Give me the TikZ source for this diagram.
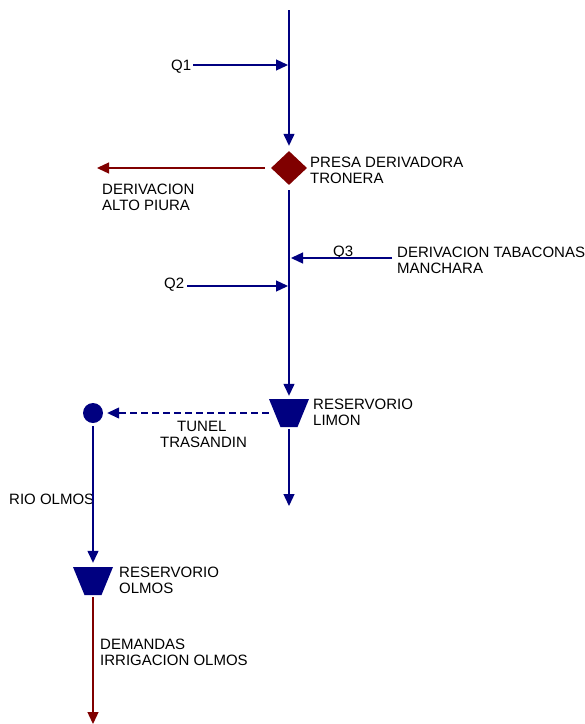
\documentclass[tikz,border=0pt]{standalone}
\usepackage{fontspec}
\setmainfont{Liberation Sans}
\usetikzlibrary{arrows.meta,shapes.geometric}
\definecolor{flow}{RGB}{0,0,128}
\definecolor{dem}{RGB}{128,0,0}
\tikzset{
  tip/.style={-{Triangle[length=12pt,width=11pt]}},
  flowline/.style={draw=flow, line width=1.3pt, tip},
  demline/.style={draw=dem, line width=1.3pt, tip},
  lbl/.style={font=\fontsize{15}{15.5}\selectfont, inner sep=0pt, align=left, text=black},
  dam/.style={diamond, fill=dem, minimum width=36pt, minimum height=34pt, inner sep=0pt},
  res/.style={rectangle, minimum height=28pt, minimum width=40pt, inner sep=0pt,
    path picture={\fill[flow] (path picture bounding box.north west) -- (path picture bounding box.north east)
      -- ([xshift=-11.5pt]path picture bounding box.south east) -- ([xshift=11.5pt]path picture bounding box.south west) -- cycle;}},
  junction/.style={circle, fill=flow, minimum size=20pt, inner sep=0pt}
}
\begin{document}
\begin{tikzpicture}[x=1pt,y=-1pt]
\useasboundingbox (0,0) rectangle (585,724);
% nodes
\coordinate (top) at (289,10);
\node[dam] (dia) at (289,168) {};
\node[res] (rl) at (289,413) {};
\node[junction] (dot) at (93,413) {};
\node[res] (ro) at (93,581) {};
\coordinate (altopiura) at (97,168);
\coordinate (q1start) at (193,65);
\coordinate (q1end) at (288,65);
\coordinate (q2start) at (187,286);
\coordinate (q2end) at (288,286);
\coordinate (q3start) at (392,258);
\coordinate (q3end) at (291,258);
\coordinate (limonout) at (289,506);
\coordinate (olmosout) at (93,724);
% labels
\node[lbl, anchor=base west] (q1) at (171,70) {Q1};
\node[lbl, anchor=base west] (q2) at (164,288) {Q2};
\node[lbl, anchor=base west] (q3) at (333,256) {Q3};
\node[lbl, anchor=base west] (presa) at (310,183) {PRESA DERIVADORA\\TRONERA};
\node[lbl, anchor=base west] (dap) at (102,210) {DERIVACION\\ALTO PIURA};
\node[lbl, anchor=base west] (tab) at (397,273) {DERIVACION TABACONAS\\MANCHARA};
\node[lbl, anchor=base west] (rll) at (313,425) {RESERVORIO\\LIMON};
\node[lbl, anchor=base west] (tun) at (160,447) {\hspace*{17pt}TUNEL\\TRASANDIN};
\node[lbl, anchor=base west] (rio) at (9,504) {RIO OLMOS};
\node[lbl, anchor=base west] (rol) at (119,593) {RESERVORIO\\OLMOS};
\node[lbl, anchor=base west] (demo) at (100,665) {DEMANDAS\\IRRIGACION OLMOS};
% connectors
\draw[flowline, shorten >=5pt] (top) -- (dia.north);
\draw[flowline] (q1start) -- (q1end);
\draw[demline, shorten <=6pt] (dia.west) -- (altopiura);
\draw[flowline, shorten <=5pt, shorten >=3pt] (dia.south) -- (rl.north);
\draw[flowline] (q3start) -- (q3end);
\draw[flowline] (q2start) -- (q2end);
\draw[flowline, shorten <=2pt] (rl.south) -- (limonout);
\draw[flowline, dashed, dash pattern=on 7pt off 4pt, shorten >=4pt] (rl.west) -- (dot.east);
\draw[flowline, shorten <=3pt, shorten >=4pt] (dot.south) -- (ro.north);
\draw[demline, shorten <=2pt] (ro.south) -- (olmosout);
\end{tikzpicture}
\end{document}
